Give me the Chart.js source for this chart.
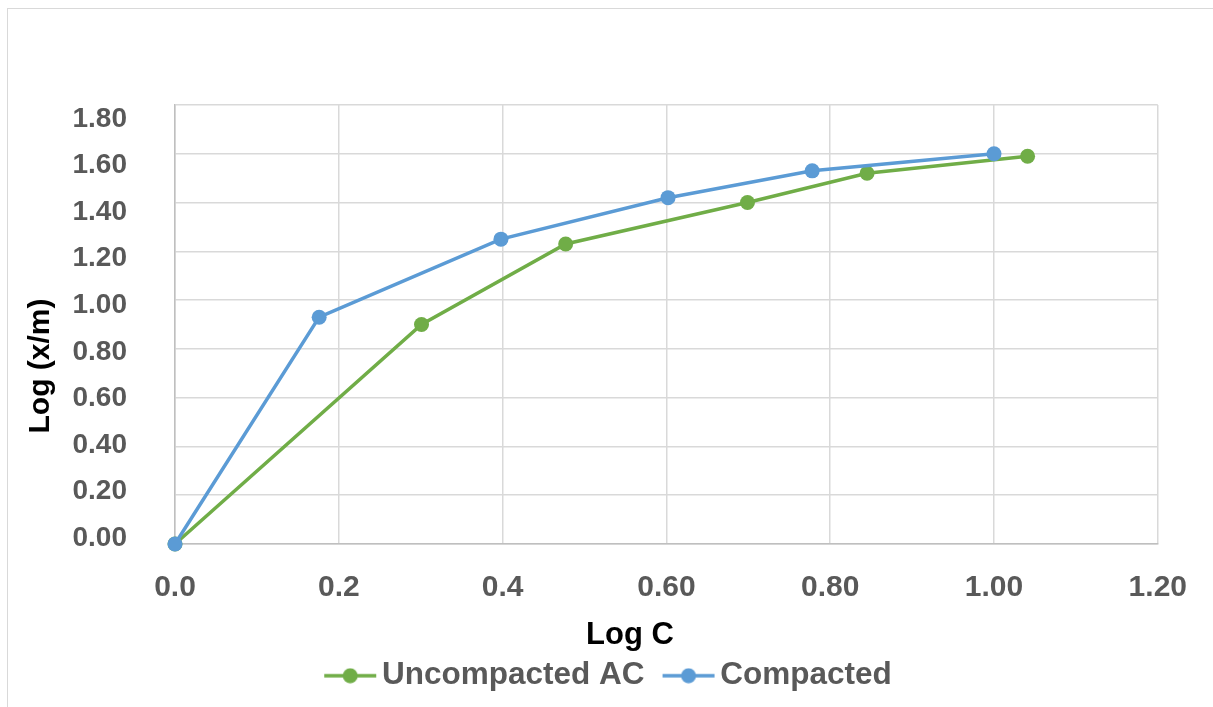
<!DOCTYPE html>
<html lang="en">

<head>
    <meta charset="UTF-8">
    <title>Log C vs Log (x/m)</title>
    <script src="https://cdn.jsdelivr.net/npm/chart.js"></script>
    <style>
        html, body {
            margin: 0;
            padding: 0;
            background: #ffffff;
        }

        #frame {
            position: absolute;
            left: 7px;
            top: 8px;
            width: 1300px;
            height: 800px;
            border: 1px solid #d9d9d9;
        }

        #wrap {
            position: absolute;
            left: 0;
            top: 0;
            width: 1213px;
            height: 707px;
        }
    </style>
</head>

<body>
    <div id="frame"></div>
    <div id="wrap">
        <canvas id="myChart" width="1213" height="707"></canvas>
    </div>

    <script>
        // data
        const seriesNames = ['Uncompacted AC', 'Compacted'];
        const uncompactedX = [0, 0.301, 0.477, 0.699, 0.845, 1.041];
        const uncompactedY = [0, 0.90, 1.23, 1.40, 1.52, 1.59];
        const compactedX = [0, 0.176, 0.398, 0.602, 0.778, 1.0];
        const compactedY = [0, 0.93, 1.25, 1.42, 1.53, 1.60];
        const xTickLabels = ['0.0', '0.2', '0.4', '0.60', '0.80', '1.00', '1.20'];
        const yTickLabels = ['0.00', '0.20', '0.40', '0.60', '0.80', '1.00', '1.20', '1.40', '1.60', '1.80'];
        const xTitle = 'Log C';
        const yTitle = 'Log (x/m)';

        const green = '#70AD47';
        const blue = '#5B9BD5';
        const tickColor = '#595959';
        const fontFamily = 'Liberation Sans, Arial, sans-serif';

        function toPoints(xs, ys) {
            return xs.map((x, i) => ({ x: x, y: ys[i] }));
        }

        // line + dot marker for the legend (line sits left of centre, blank on the right)
        function legendMarker(color) {
            const c = document.createElement('canvas');
            c.width = 82;
            c.height = 16;
            const g = c.getContext('2d');
            g.strokeStyle = color;
            g.lineWidth = 3.5;
            g.beginPath();
            g.moveTo(20, 8);
            g.lineTo(72, 8);
            g.stroke();
            g.fillStyle = color;
            g.beginPath();
            g.arc(46, 8, 7.5, 0, Math.PI * 2);
            g.fill();
            return c;
        }

        // axis titles sit off-centre in the original, so draw them by hand
        const axisTitles = {
            id: 'axisTitles',
            afterDraw(chart) {
                const c = chart.ctx;
                const area = chart.chartArea;
                c.save();
                c.fillStyle = '#000000';
                c.textAlign = 'center';
                c.textBaseline = 'middle';
                c.font = 'bold 31px ' + fontFamily;
                c.fillText(xTitle, area.left + 455, area.bottom + 91);
                c.translate(41, area.top + 261);
                c.rotate(-Math.PI / 2);
                c.font = 'bold 30px ' + fontFamily;
                c.fillText(yTitle, 0, 0);
                c.restore();
            }
        };

        const ctx = document.getElementById('myChart').getContext('2d');
        new Chart(ctx, {
            type: 'line',
            data: {
                datasets: [{
                    label: seriesNames[0],
                    data: toPoints(uncompactedX, uncompactedY),
                    borderColor: green,
                    backgroundColor: green,
                    borderWidth: 3.5,
                    pointRadius: 7.5,
                    pointBorderWidth: 0,
                    pointBackgroundColor: green,
                    tension: 0,
                    clip: false,
                    order: 1
                }, {
                    label: seriesNames[1],
                    data: toPoints(compactedX, compactedY),
                    borderColor: blue,
                    backgroundColor: blue,
                    borderWidth: 3.5,
                    pointRadius: 7.5,
                    pointBorderWidth: 0,
                    pointBackgroundColor: blue,
                    tension: 0,
                    clip: false,
                    order: 0
                }]
            },
            options: {
                responsive: false,
                animation: false,
                layout: {
                    padding: { top: 105, right: 52, bottom: 5.5, left: 55 }
                },
                plugins: {
                    tooltip: { enabled: false },
                    legend: {
                        position: 'bottom',
                        labels: {
                            usePointStyle: true,
                            pointStyleWidth: 42,
                            padding: 18,
                            color: tickColor,
                            font: { family: fontFamily, size: 31.5, weight: 'bold' },
                            generateLabels: function (chart) {
                                return chart.data.datasets.map((ds, i) => ({
                                    text: ds.label,
                                    pointStyle: legendMarker(ds.borderColor),
                                    fillStyle: ds.borderColor,
                                    strokeStyle: ds.borderColor,
                                    lineWidth: 0,
                                    fontColor: tickColor,
                                    datasetIndex: i
                                }));
                            }
                        }
                    }
                },
                scales: {
                    x: {
                        type: 'linear',
                        min: 0,
                        max: 1.2,
                        afterFit: function (scale) { scale.height = 98; },
                        ticks: {
                            stepSize: 0.2,
                            padding: 26,
                            color: tickColor,
                            font: { family: fontFamily, size: 30, weight: 'bold' },
                            callback: function (value, index) { return xTickLabels[index]; }
                        },
                        grid: { color: '#d9d9d9', lineWidth: 1.5, drawTicks: false },
                        border: { color: '#bfbfbf', width: 1.5 }
                    },
                    // grid-only value axis, right against the plot
                    y: {
                        min: 0,
                        max: 1.8,
                        weight: 0,
                        afterFit: function (scale) { scale.width = 0; },
                        ticks: { stepSize: 0.2, display: false },
                        grid: { color: '#d9d9d9', lineWidth: 1.5, drawTicks: false },
                        border: { color: '#bfbfbf', width: 1.5 }
                    },
                    // label axis: the original's labels are spaced a little tighter than its grid
                    yLabels: {
                        type: 'linear',
                        position: 'left',
                        min: -0.0258,
                        max: 1.8603,
                        weight: 1,
                        afterFit: function (scale) { scale.width = 120; },
                        ticks: {
                            stepSize: 0.2,
                            includeBounds: false,
                            padding: 48,
                            color: tickColor,
                            font: { family: fontFamily, size: 28, weight: 'bold' },
                            callback: function (value, index) { return yTickLabels[index]; }
                        },
                        grid: { display: false, drawTicks: false },
                        border: { display: false }
                    }
                }
            },
            plugins: [axisTitles]
        });
    </script>

</body>

</html>
